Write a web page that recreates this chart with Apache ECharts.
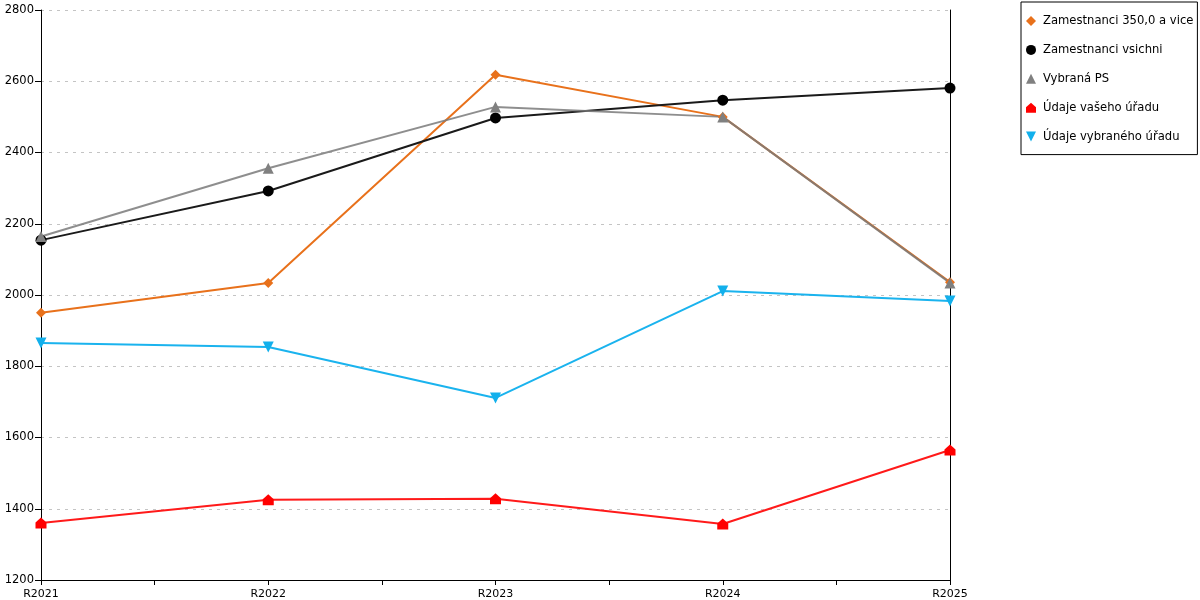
<!DOCTYPE html>
<html>
<head>
<meta charset="utf-8">
<script src="https://cdn.jsdelivr.net/npm/echarts@6/dist/echarts.min.js"></script>
<style>
  html, body { margin: 0; padding: 0; background: #fff; }
  #main { width: 1200px; height: 600px; }
</style>
</head>
<body>
<div id="main"></div>
<script>
var categories = ['R2021', 'R2022', 'R2023', 'R2024', 'R2025'];
var zam350 = [1950, 2034, 2618, 2500, 2036];
var zamVsichni = [2154, 2292, 2497, 2547, 2581];
var vybranaPS = [2164, 2356, 2528, 2500, 2034];
var vasUrad = [1360, 1425, 1428, 1357, 1565];
var vybranyUrad = [1865, 1854, 1711, 2011, 1983];

function pts(arr) {
    return arr.map(function (v, i) { return [i, v]; });
}

var house = 'path://M5,0 L10,4.5 L10,10 L0,10 L0,4.5 Z';
var downTri = 'path://M0,0 L10,0 L5,10 Z';
var font = 'DejaVu Sans';

var myChart = echarts.init(document.getElementById('main'));
myChart.setOption({
    animation: false,
    textStyle: { fontFamily: font },
    grid: { left: 41, right: 250, top: 10, bottom: 20 },
    legend: {
        orient: 'vertical',
        left: 1021,
        top: 2,
        padding: [13, 4, 12, 5],
        itemGap: 16.9,
        itemWidth: 10,
        itemHeight: 10,
        borderColor: '#000',
        borderWidth: 1,
        textStyle: { fontFamily: font, fontSize: 11.6, color: '#000', padding: [0, 0, 0, 2] },
        data: [
            { name: 'Zamestnanci 350,0 a vice', icon: 'diamond' },
            { name: 'Zamestnanci vsichni', icon: 'circle' },
            { name: 'Vybraná PS', icon: 'triangle' },
            { name: 'Údaje vašeho úřadu', icon: house },
            { name: 'Údaje vybraného úřadu', icon: downTri }
        ]
    },
    xAxis: {
        type: 'value',
        min: 0,
        max: categories.length - 1,
        interval: 0.5,
        axisLine: { lineStyle: { color: '#000', width: 1 } },
        axisTick: { show: true, length: 5, lineStyle: { color: '#000' } },
        splitLine: { show: false },
        axisLabel: {
            color: '#000',
            fontSize: 11,
            margin: 9,
            showMinLabel: true,
            showMaxLabel: true,
            formatter: function (v) {
                return Number.isInteger(v) ? categories[v] : '';
            }
        }
    },
    yAxis: [{
        type: 'value',
        min: 1200,
        max: 2800,
        interval: 200,
        axisLine: { show: true, lineStyle: { color: '#000', width: 1 } },
        axisTick: { show: true, length: 6, lineStyle: { color: '#000' } },
        axisLabel: { color: '#000', fontSize: 11.5, margin: 7, formatter: function (v) { return String(v); } },
        splitLine: { show: true, lineStyle: { color: '#c4c4c4', type: [3, 5] } }
    }, {
        type: 'value',
        position: 'right',
        min: 1200,
        max: 2800,
        interval: 200,
        axisLine: { show: true, lineStyle: { color: '#000', width: 1 } },
        axisTick: { show: false },
        axisLabel: { show: false },
        splitLine: { show: false }
    }],
    series: [{
        name: 'Zamestnanci 350,0 a vice',
        type: 'line',
        data: pts(zam350),
        symbol: 'diamond',
        symbolSize: 10,
        itemStyle: { color: '#e8711b' },
        lineStyle: { color: '#e8711b', width: 2 }
    }, {
        name: 'Zamestnanci vsichni',
        type: 'line',
        data: pts(zamVsichni),
        symbol: 'circle',
        symbolSize: 11,
        itemStyle: { color: '#000' },
        lineStyle: { color: '#1a1a1a', width: 2 }
    }, {
        name: 'Vybraná PS',
        type: 'line',
        data: pts(vybranaPS),
        symbol: 'triangle',
        symbolSize: 11,
        itemStyle: { color: '#808080' },
        lineStyle: { color: '#7a7a7a', width: 2, opacity: 0.85 }
    }, {
        name: 'Údaje vašeho úřadu',
        type: 'line',
        data: pts(vasUrad),
        symbol: house,
        symbolSize: 11,
        itemStyle: { color: '#ff0000' },
        lineStyle: { color: '#ff1a1a', width: 2 }
    }, {
        name: 'Údaje vybraného úřadu',
        type: 'line',
        data: pts(vybranyUrad),
        symbol: downTri,
        symbolSize: 11,
        itemStyle: { color: '#12b0ec' },
        lineStyle: { color: '#1ab3ee', width: 2 }
    }]
});
</script>
</body>
</html>
